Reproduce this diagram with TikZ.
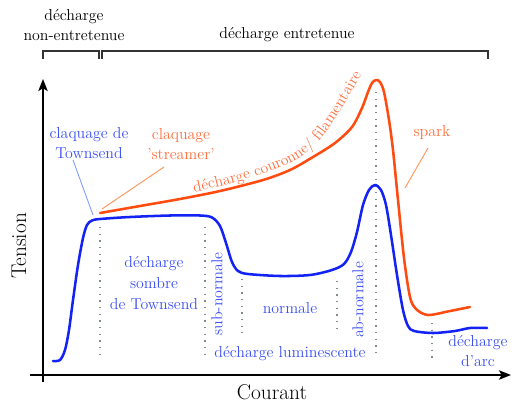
\documentclass[tikz,border=0pt]{standalone}
\usetikzlibrary{decorations.text,arrows.meta}
\definecolor{cblue}{RGB}{20,35,245}
\definecolor{tblue}{RGB}{60,80,245}
\definecolor{corange}{RGB}{255,75,15}
\definecolor{torange}{RGB}{255,110,60}
\definecolor{lblue}{RGB}{130,160,255}
\definecolor{lorange}{RGB}{255,150,90}
\definecolor{dgray}{RGB}{125,140,140}
\begin{document}
\begin{tikzpicture}[x=0.75pt,y=-0.75pt,
  lab/.style={font=\fontsize{11.9}{15.5}\selectfont, align=center, inner sep=0pt},
  bl/.style={lab, text=tblue},
  ol/.style={lab, text=torange},
  big/.style={font=\fontsize{16}{18}\selectfont, inner sep=0pt},
  curve/.style={line width=1.9pt, line join=round, line cap=round},
  vdots/.style={draw=dgray, line width=1.1pt, dash pattern=on 1.1pt off 3.9pt},
  axis/.style={line width=1.4pt, -{Stealth[length=9pt,width=7pt,inset=2pt]}},
  brk/.style={draw=black!80, line width=1.1pt},
  lead/.style={line width=0.7pt}]
\fill[white] (0,0) rectangle (512,404);
\useasboundingbox (0,0) rectangle (512,404);

% header brackets
\draw[brk] (43,59) -- (43,51) -- (99,51) -- (99,59);
\draw[brk] (102,59) -- (102,51) -- (488,51) -- (488,59);
\node[lab] (nonent) at (74,25) {décharge\\non-entretenue};
\node[lab] (ent) at (287,35) {décharge entretenue};

% dotted guide lines
\draw[vdots] (100,227) -- (100,360);
\draw[vdots] (205,227) -- (205,358);
\draw[vdots] (242,279) -- (242,333);
\draw[vdots] (337,281) -- (337,333);
\draw[vdots] (376,92) -- (376,358);
\draw[vdots] (432,323) -- (432,362);

% axes
\coordinate (xs) at (30,375);
\coordinate (xe) at (511,375);
\coordinate (ys) at (43,382);
\coordinate (ye) at (43,79);
\draw[axis] (xs) -- (xe);
\draw[axis] (ys) -- (ye);
\node[big, rotate=90] (tension) at (19,246) {Tension};
\node[big] (courant) at (272,392) {Courant};

% curves
\draw[curve, corange] plot[smooth, tension=0.5] coordinates {(100,213) (140,206) (180,199) (220,191) (263,180) (290,170) (313,157) (335,143) (352,127) (362,108) (368,92) (372,83) (376,80) (380,82) (384,92) (389,120) (393,150) (398,200) (404,258) (410,297) (416,309) (428,315) (450,311) (470,307)};
\draw[curve, cblue] plot[smooth, tension=0.5] coordinates {(53,361) (60,360) (65,350) (69,330) (73,300) (78,265) (83,238) (87,225) (92,220.5) (100,219) (130,217) (170,215.5) (200,215.5) (212,217.5) (220,226) (226,243) (232,262) (238,271) (248,274) (280,276) (310,275) (332,270) (344,264) (351,252) (357,232) (363,205) (369,190) (375,185) (381,190) (386,205) (391,235) (397,275) (403,310) (408,326) (414,331) (433,333) (455,331) (470,328) (487,328)};

% text along the orange curve (baseline path just above it)
\path[decorate, decoration={text along path, text align=left,
  text={|\fontsize{11.7}{14}\selectfont\color{torange}|décharge couronne/ filamentaire}}]
  plot[smooth, tension=0.5] coordinates {(194,192) (230,184) (263,174) (290,163) (306,153) (319,141) (331,125) (346,101) (364,71) (375,53)};

% labels
\node[bl] (claqT) at (89,143) {claquage de\\Townsend};
\node[ol] (claqS) at (181,144) {claquage\\'streamer'};
\node[ol] (spark) at (432,133) {spark};
\node[bl] (sombre) at (154,283) {décharge\\sombre\\de Townsend};
\node[bl, rotate=90] (subn) at (217,294) {sub-normale};
\node[bl] (norm) at (290,308) {normale};
\node[bl, rotate=90] (abn) at (358,300) {ab-normale};
\node[bl] (lum) at (290,354) {décharge luminescente};
\node[bl] (arc) at (478,351) {décharge\\d'arc};

% leader lines
\coordinate (tA) at (73,160);
\coordinate (tB) at (93,215);
\coordinate (sA) at (164,167);
\coordinate (sB) at (102,209);
\coordinate (pA) at (428,148);
\coordinate (pB) at (405,188);
\draw[lead, lblue] (tA) -- (tB);
\draw[lead, lorange] (sA) -- (sB);
\draw[lead, lorange] (pA) -- (pB);
\end{tikzpicture}
\end{document}
